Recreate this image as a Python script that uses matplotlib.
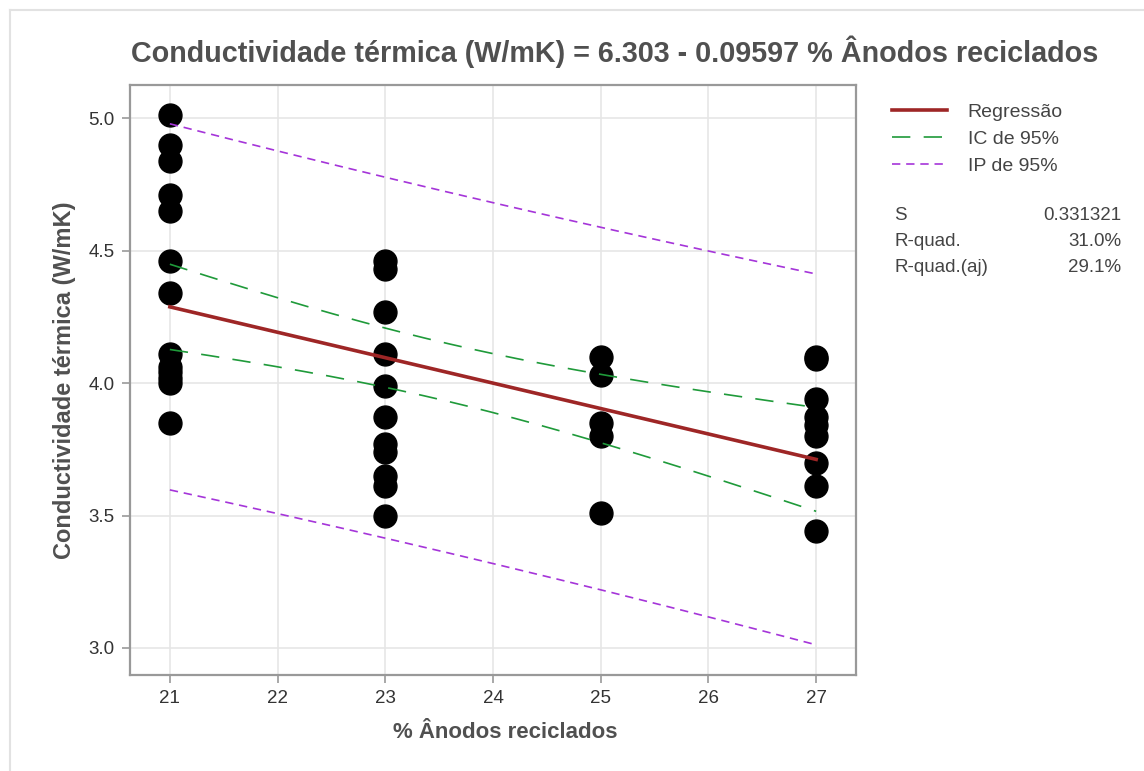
import numpy as np
import matplotlib
matplotlib.use("Agg")
import matplotlib.pyplot as plt
from matplotlib.lines import Line2D

plt.rcParams['font.family'] = ['Liberation Sans', 'DejaVu Sans']

# ---- data ----
x_levels = [21, 23, 25, 27]
y_at_21 = [5.01, 4.90, 4.84, 4.71, 4.65, 4.46, 4.34, 4.11, 4.06, 4.04, 4.02, 4.00, 3.85]
y_at_23 = [4.46, 4.43, 4.27, 4.11, 3.99, 3.87, 3.77, 3.74, 3.65, 3.61, 3.50]
y_at_25 = [4.10, 4.03, 3.85, 3.80, 3.51]
y_at_27 = [4.10, 4.09, 3.94, 3.87, 3.84, 3.80, 3.70, 3.61, 3.44]

intercept = 6.303
slope = -0.09597
S_value = 0.331321
r2_text = "31.0%"
r2adj_text = "29.1%"
t_crit = 2.028  # t(0.975, n-2)

x_ticks = [21, 22, 23, 24, 25, 26, 27]
y_ticks = [3.0, 3.5, 4.0, 4.5, 5.0]

title = "Conductividade térmica (W/mK) = 6.303 - 0.09597 % Ânodos reciclados"
xlabel = "% Ânodos reciclados"
ylabel = "Conductividade térmica (W/mK)"

# ---- assemble ----
groups = [y_at_21, y_at_23, y_at_25, y_at_27]
xs = np.concatenate([[xv] * len(g) for xv, g in zip(x_levels, groups)]).astype(float)
ys = np.concatenate(groups)
n = len(xs)
xbar = xs.mean()
sxx = ((xs - xbar) ** 2).sum()

xg = np.linspace(min(x_levels), max(x_levels), 200)
yfit = intercept + slope * xg
se_mean = S_value * np.sqrt(1.0 / n + (xg - xbar) ** 2 / sxx)
se_pred = S_value * np.sqrt(1.0 + 1.0 / n + (xg - xbar) ** 2 / sxx)

W, H = 1144, 771
fig = plt.figure(figsize=(W / 100, H / 100), dpi=100)
ax = fig.add_axes([130 / W, 1 - 675 / H, (856 - 130) / W, (675 - 85) / H])

ax.grid(True, color='#e6e6e6', linewidth=1.2, zorder=0)
ax.set_axisbelow(True)

ax.plot(xs, ys, 'o', color='black', markersize=16.5, zorder=3)

reg_color = '#9e2626'
ci_color = '#1f9a3a'
pi_color = '#a535d9'
ci_dash = (11, 8)
pi_dash = (5, 3.5)
ax.plot(xg, yfit, color=reg_color, linewidth=2.6, zorder=4)
ax.plot(xg, yfit + t_crit * se_mean, color=ci_color, linewidth=1.2, dashes=ci_dash, zorder=4)
ax.plot(xg, yfit - t_crit * se_mean, color=ci_color, linewidth=1.2, dashes=ci_dash, zorder=4)
ax.plot(xg, yfit + t_crit * se_pred, color=pi_color, linewidth=1.2, dashes=pi_dash, zorder=4)
ax.plot(xg, yfit - t_crit * se_pred, color=pi_color, linewidth=1.2, dashes=pi_dash, zorder=4)

ax.set_xlim(20.63, 27.37)
ax.set_ylim(2.898, 5.125)
ax.set_xticks(x_ticks)
ax.set_yticks(y_ticks)
ax.set_yticklabels([f"{v:.1f}" for v in y_ticks])

for sp in ax.spines.values():
    sp.set_color('#999999')
    sp.set_linewidth(1.6)
ax.tick_params(axis='both', colors='#999999', length=6, width=1.2,
               labelcolor='#333333', labelsize=13.5, pad=5)

fig.text(615 / W, 1 - 52 / H, title, ha='center', va='center',
         fontsize=20.7, fontweight='bold', color='#505050')
fig.text(505 / W, 1 - 733 / H, xlabel, ha='center', va='center',
         fontsize=16, fontweight='bold', color='#505050')
fig.text(65 / W, 1 - 380 / H, ylabel, ha='center', va='center', rotation=90,
         fontsize=17, fontweight='bold', color='#505050')

handles = [
    Line2D([], [], color=reg_color, linewidth=2.6),
    Line2D([], [], color=ci_color, linewidth=1.2, dashes=ci_dash),
    Line2D([], [], color=pi_color, linewidth=1.2, dashes=pi_dash),
]
leg = fig.legend(handles, ["Regressão", "IC de 95%", "IP de 95%"],
                 loc='upper left', bbox_to_anchor=(892 / W, 1 - 103 / H),
                 frameon=False, fontsize=14, handlelength=2.85,
                 handletextpad=1.05, labelspacing=0.5, borderaxespad=0,
                 borderpad=0)
for t in leg.get_texts():
    t.set_color('#444444')

stats = [("S", f"{S_value:.6f}"), ("R-quad.", r2_text), ("R-quad.(aj)", r2adj_text)]
for i, (lab, val) in enumerate(stats):
    yy = 1 - (215 + i * 26.5) / H
    fig.text(894 / W, yy, lab, ha='left', va='center', fontsize=13.5, color='#444444')
    fig.text(1121 / W, yy, val, ha='right', va='center', fontsize=13.5, color='#444444')

# panel border (cropped frame)
fig.add_artist(Line2D([10 / W, 10 / W], [0, 1 - 10 / H], transform=fig.transFigure,
                      color='#e2e2e2', linewidth=1.5))
fig.add_artist(Line2D([10 / W, 1], [1 - 10 / H, 1 - 10 / H], transform=fig.transFigure,
                      color='#e2e2e2', linewidth=1.5))

fig.savefig("out.png", dpi=100)
